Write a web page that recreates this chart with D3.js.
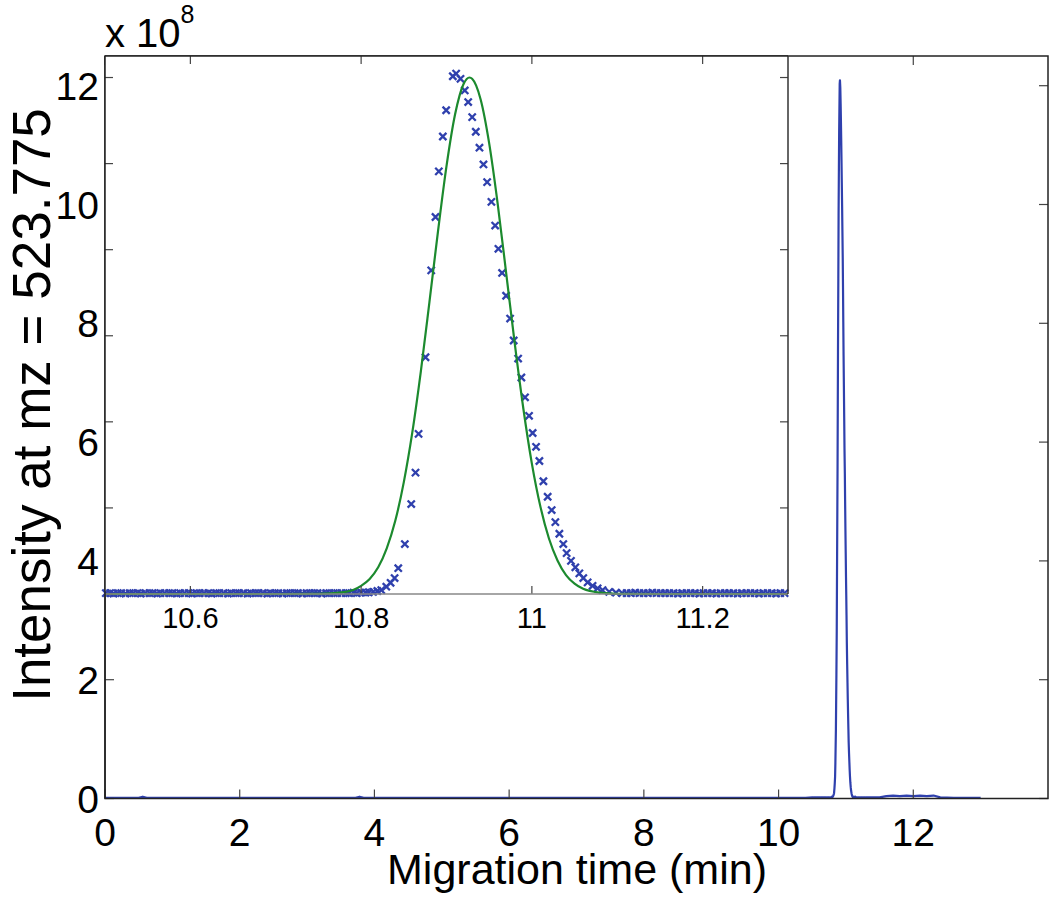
<!DOCTYPE html>
<html>
<head>
<meta charset="utf-8">
<script src="https://cdn.jsdelivr.net/npm/d3@7"></script>
<style>
  body { margin: 0; background: #fff; }
  text { font-family: "Liberation Sans", Arial, Helvetica, sans-serif; fill: #000; }
</style>
</head>
<body>
<script>
'use strict';

// inset scans (migration time in min, intensity in units of 1e8)
const scanTimes = [
  10.501, 10.506, 10.510, 10.515, 10.519, 10.524, 10.529, 10.533, 10.538, 10.542,
  10.547, 10.552, 10.556, 10.561, 10.565, 10.570, 10.575, 10.579, 10.584, 10.588,
  10.593, 10.598, 10.602, 10.607, 10.611, 10.616, 10.621, 10.625, 10.630, 10.634,
  10.639, 10.644, 10.648, 10.653, 10.657, 10.662, 10.667, 10.671, 10.676, 10.680,
  10.685, 10.690, 10.694, 10.699, 10.703, 10.708, 10.713, 10.717, 10.722, 10.726,
  10.731, 10.736, 10.740, 10.745, 10.749, 10.754, 10.759, 10.763, 10.768, 10.772,
  10.777, 10.782, 10.786, 10.791, 10.795, 10.800, 10.805, 10.809, 10.814, 10.819,
  10.8236, 10.8295, 10.8345, 10.8392, 10.8435, 10.8512, 10.8587, 10.8637, 10.8673, 10.8754,
  10.8821, 10.8871, 10.8910, 10.8957, 10.8996, 10.9074, 10.9113, 10.9164, 10.9214, 10.9254,
  10.9301, 10.9343, 10.9386, 10.9433, 10.9476, 10.9526, 10.9570, 10.9608, 10.9651, 10.9698,
  10.9745, 10.9787, 10.9839, 10.9877, 10.9920, 10.9967, 11.0009, 11.0049, 11.0088, 11.0135,
  11.0185, 11.0232, 11.0275, 11.0322, 11.0368, 11.0407, 11.0458, 11.0509, 11.0556, 11.0602,
  11.0653, 11.0711, 11.0770, 11.0828, 11.0906, 11.0985, 11.1058,
  11.111, 11.116, 11.121, 11.126, 11.131, 11.136, 11.141, 11.146, 11.151, 11.156,
  11.161, 11.166, 11.171, 11.176, 11.181, 11.186, 11.191, 11.196, 11.201, 11.206,
  11.211, 11.216, 11.221, 11.226, 11.231, 11.236, 11.241, 11.246, 11.251, 11.256,
  11.261, 11.266, 11.271, 11.276, 11.281, 11.286, 11.291, 11.296
]
const scanIntensity = [
  0.02, 0.02, 0.01, 0.02, 0.02, 0.01, 0.02, 0.02, 0.02, 0.01,
  0.02, 0.02, 0.02, 0.01, 0.02, 0.02, 0.02, 0.02, 0.01, 0.02,
  0.02, 0.02, 0.01, 0.02, 0.02, 0.02, 0.02, 0.01, 0.02, 0.02,
  0.02, 0.01, 0.02, 0.02, 0.02, 0.02, 0.01, 0.02, 0.02, 0.02,
  0.02, 0.01, 0.02, 0.02, 0.02, 0.01, 0.02, 0.02, 0.02, 0.02,
  0.01, 0.02, 0.02, 0.02, 0.02, 0.01, 0.02, 0.02, 0.02, 0.02,
  0.02, 0.02, 0.02, 0.03, 0.02, 0.03, 0.03, 0.04, 0.05, 0.07,
  0.09, 0.17, 0.26, 0.37, 0.60, 1.16, 2.09, 2.82, 3.72, 5.50,
  7.52, 8.76, 9.82, 10.63, 11.24, 12.03, 12.09, 11.97, 11.70, 11.43,
  11.08, 10.74, 10.37, 9.98, 9.57, 9.11, 8.56, 8.02, 7.46, 6.93,
  6.40, 5.89, 5.47, 5.03, 4.57, 4.14, 3.74, 3.42, 3.09, 2.62,
  2.26, 1.95, 1.67, 1.40, 1.16, 0.95, 0.77, 0.62, 0.48, 0.37,
  0.27, 0.19, 0.13, 0.09, 0.05, 0.03, 0.02,
  0.02, 0.02, 0.03, 0.02, 0.02, 0.02, 0.03, 0.02, 0.02, 0.02,
  0.02, 0.02, 0.01, 0.02, 0.02, 0.02, 0.02, 0.01, 0.02, 0.02,
  0.02, 0.01, 0.02, 0.02, 0.02, 0.02, 0.01, 0.02, 0.02, 0.02,
  0.02, 0.01, 0.02, 0.02, 0.02, 0.01, 0.02, 0.02
]

// gaussian fit
const fitTimes = [10.50, 10.60, 10.70, 10.75, 10.78, 10.80, 10.81, 10.82, 10.83, 10.84,
  10.85, 10.86, 10.87, 10.88, 10.89, 10.90, 10.91, 10.92, 10.927, 10.93, 10.94, 10.95,
  10.96, 10.97, 10.98, 10.99, 11.00, 11.01, 11.02, 11.03, 11.04, 11.05, 11.06, 11.08,
  11.10, 11.15, 11.20, 11.30]
const fitIntensity = [0, 0, 0, 0.004, 0.045, 0.19, 0.35, 0.62, 1.06, 1.70,
  2.60, 3.76, 5.18, 6.78, 8.42, 9.94, 11.14, 11.85, 12.00, 11.97, 11.49, 10.47,
  9.06, 7.44, 5.81, 4.31, 3.03, 2.03, 1.29, 0.78, 0.44, 0.24, 0.12, 0.03,
  0.005, 0, 0, 0]

// full electropherogram outside the inset window
const mainTimesBefore = [0, 0.3, 0.5, 0.56, 0.62, 0.9, 1.5, 2, 2.5, 3, 3.5, 3.72, 3.78, 3.84, 4.2, 5, 6, 7, 8, 9, 10, 10.4]
const mainIntensityBefore = [0.01, 0.01, 0.01, 0.03, 0.01, 0.01, 0.01, 0.01, 0.01, 0.01, 0.01, 0.01, 0.03, 0.01, 0.01, 0.01, 0.01, 0.01, 0.01, 0.01, 0.01, 0.01]
const mainTimesAfter = [11.35, 11.5, 11.6, 11.7, 11.8, 11.9, 12.0, 12.1, 12.2, 12.3, 12.4, 12.6, 12.8, 13.0]
const mainIntensityAfter = [0.02, 0.02, 0.04, 0.05, 0.04, 0.05, 0.04, 0.05, 0.04, 0.05, 0.02, 0.01, 0.01, 0.01]

const mainXTicks = [0, 2, 4, 6, 8, 10, 12]
const mainYTicks = [0, 2, 4, 6, 8, 10, 12]
const insetXTicks = [10.6, 10.8, 11, 11.2]
const insetYTicks = [0, 2, 4, 6, 8, 10, 12]

const W = 1050, H = 897
const blue = '#2f40ad'
const green = '#1c8a2e'

const svg = d3.select('body').append('svg')
  .attr('width', W)
  .attr('height', H)

const main = { left: 105, right: 1048, top: 56, bottom: 798.5 }
const inset = { left: 105, right: 788, top: 56, bottom: 594 }

const xMain = d3.scaleLinear().domain([0, 14]).range([main.left, main.right])
const yMain = d3.scaleLinear().domain([0, 12.5]).range([main.bottom, main.top])
const xIn = d3.scaleLinear().domain([10.5, 11.3]).range([inset.left, inset.right])
const yIn = d3.scaleLinear().domain([0, 12.5]).range([inset.bottom, inset.top])

function drawTicks(g, xScale, yScale, box, xTicks, yTicks, len) {
  g.selectAll(null).data(xTicks).enter().append('line')
    .attr('x1', d => xScale(d)).attr('x2', d => xScale(d))
    .attr('y1', box.bottom).attr('y2', box.bottom - len)
  g.selectAll(null).data(xTicks).enter().append('line')
    .attr('x1', d => xScale(d)).attr('x2', d => xScale(d))
    .attr('y1', box.top).attr('y2', box.top + len)
  g.selectAll(null).data(yTicks).enter().append('line')
    .attr('x1', box.left).attr('x2', box.left + len)
    .attr('y1', d => yScale(d)).attr('y2', d => yScale(d))
  g.selectAll(null).data(yTicks).enter().append('line')
    .attr('x1', box.right).attr('x2', box.right - len)
    .attr('y1', d => yScale(d)).attr('y2', d => yScale(d))
  g.selectAll('line').style('stroke', '#444').style('stroke-width', 1.2)
}

// main axes
const mainTimes = mainTimesBefore.concat(scanTimes, mainTimesAfter)
const mainIntensity = mainIntensityBefore.concat(scanIntensity, mainIntensityAfter)
const mainData = mainTimes.map((t, i) => ({ t: t, v: mainIntensity[i] }))

svg.append('path')
  .datum(mainData)
  .attr('d', d3.line().x(d => xMain(d.t)).y(d => yMain(d.v)))
  .style('fill', 'none')
  .style('stroke', blue)
  .style('stroke-width', 2.2)
  .style('stroke-linejoin', 'round')

drawTicks(svg.append('g'), xMain, yMain, main, mainXTicks, mainYTicks, 9)

svg.append('rect')
  .attr('x', main.left).attr('y', main.top)
  .attr('width', main.right - main.left).attr('height', main.bottom - main.top)
  .style('fill', 'none').style('stroke', '#222').style('stroke-width', 1.5)

svg.append('g').selectAll('text').data(mainXTicks).enter().append('text')
  .attr('x', d => xMain(d))
  .attr('y', 846)
  .attr('text-anchor', 'middle')
  .style('font-size', '39px')
  .text(d => d)

svg.append('g').selectAll('text').data(mainYTicks).enter().append('text')
  .attr('x', 99)
  .attr('y', d => yMain(d) + 14)
  .attr('text-anchor', 'end')
  .style('font-size', '39px')
  .text(d => d)

svg.append('text')
  .attr('x', 577)
  .attr('y', 884)
  .attr('text-anchor', 'middle')
  .style('font-size', '43px')
  .text('Migration time (min)')

svg.append('text')
  .attr('transform', 'translate(50, 405)rotate(-90)')
  .attr('text-anchor', 'middle')
  .style('font-size', '53px')
  .text('Intensity at mz = 523.775')

const expo = svg.append('text').attr('x', 105).attr('y', 47).style('font-size', '40px')
expo.append('tspan').text('x 10')
expo.append('tspan').attr('dy', -24).style('font-size', '25px').text('8')

// inset axes
svg.append('rect')
  .attr('x', inset.left).attr('y', inset.top)
  .attr('width', inset.right - inset.left).attr('height', inset.bottom - inset.top)
  .style('fill', '#fff')

const scanData = scanTimes.map((t, i) => ({ t: t, v: scanIntensity[i] }))
const fitData = fitTimes.map((t, i) => ({ t: t, v: fitIntensity[i] }))

svg.append('g').selectAll('path').data(scanData).enter().append('path')
  .attr('transform', d => 'translate(' + xIn(d.t) + ',' + yIn(d.v) + ')')
  .attr('d', 'M-3.6,-3.6L3.6,3.6M-3.6,3.6L3.6,-3.6')
  .style('stroke', blue)
  .style('stroke-width', 2.3)
  .style('fill', 'none')

svg.append('path')
  .datum(fitData)
  .attr('d', d3.line().curve(d3.curveMonotoneX).x(d => xIn(d.t)).y(d => yIn(d.v)))
  .style('fill', 'none')
  .style('stroke', green)
  .style('stroke-width', 2.2)

drawTicks(svg.append('g'), xIn, yIn, inset, insetXTicks, insetYTicks, 8)

svg.append('line')
  .attr('x1', inset.left).attr('x2', inset.right)
  .attr('y1', inset.bottom).attr('y2', inset.bottom)
  .style('stroke', '#888').style('stroke-width', 1.5)
svg.append('line')
  .attr('x1', inset.right).attr('x2', inset.right)
  .attr('y1', inset.top).attr('y2', inset.bottom)
  .style('stroke', '#333').style('stroke-width', 1.5)
svg.append('line')
  .attr('x1', inset.left).attr('x2', inset.right)
  .attr('y1', inset.top).attr('y2', inset.top)
  .style('stroke', '#222').style('stroke-width', 1.5)
svg.append('line')
  .attr('x1', inset.left).attr('x2', inset.left)
  .attr('y1', inset.top).attr('y2', main.bottom)
  .style('stroke', '#222').style('stroke-width', 1.5)

svg.append('g').selectAll('text').data(insetXTicks).enter().append('text')
  .attr('x', d => xIn(d))
  .attr('y', 628)
  .attr('text-anchor', 'middle')
  .style('font-size', '29px')
  .text(d => d)
</script>
</body>
</html>
